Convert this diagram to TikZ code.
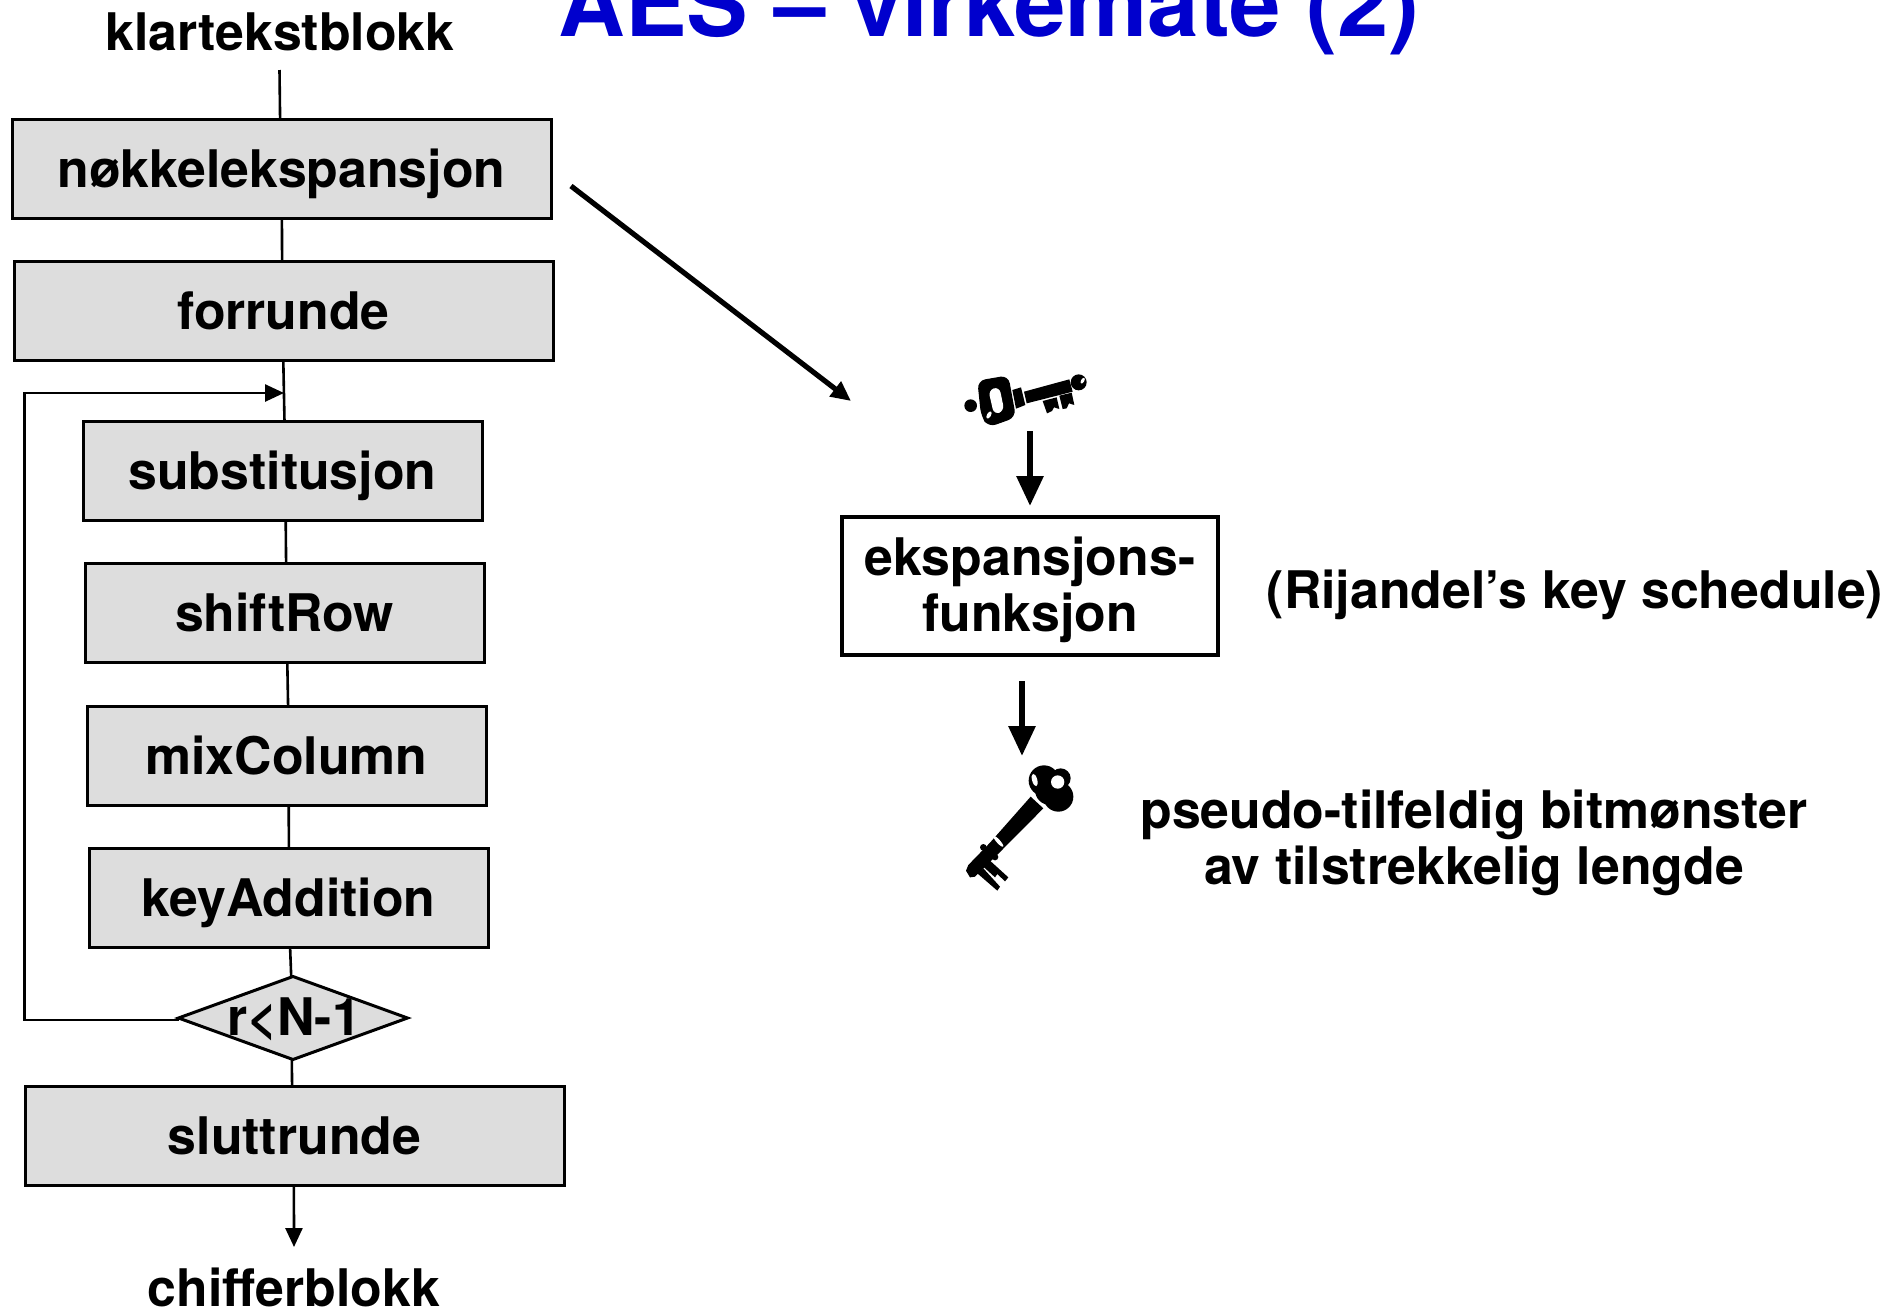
\documentclass[tikz,border=0pt]{standalone}
\usepackage{fontspec}
\setmainfont{TeX Gyre Heros}
\usetikzlibrary{arrows.meta,shapes.geometric}
\definecolor{boxgrey}{RGB}{221,221,221}
\definecolor{titleblue}{RGB}{0,0,205}
\tikzset{
  lbl/.style={font=\fontsize{25.9pt}{28pt}\selectfont\bfseries,inner sep=0pt,outer sep=0pt,align=center},
  oneline/.style={lbl,text height=24pt,text depth=5.2pt},
  stepbox/.style={oneline,draw=black,fill=boxgrey,line width=1.5pt,minimum height=49.5pt},
  widebox/.style={stepbox,minimum width=269.5pt},
  narrowbox/.style={stepbox,minimum width=199.5pt},
  funcbox/.style={lbl,draw=black,line width=2.2pt,minimum width=188pt,minimum height=69pt},
  conn/.style={line width=1.3pt},
  thinarrow/.style={conn,-{Triangle[length=9.5pt,width=8.5pt]}},
  diagarrow/.style={line width=2.6pt,-{Triangle[length=10pt,width=9pt]}},
  bigarrow/.style={line width=3pt,-{Triangle[length=15pt,width=13pt]}},
}
\begin{document}
\begin{tikzpicture}[x=0.5pt,y=-0.5pt]
\path[use as bounding box,clip] (0,0) rectangle (1897,1308);
\fill[white] (0,0) rectangle (1897,1308);

\node[lbl,anchor=base,text=titleblue,font=\fontsize{46.2pt}{48pt}\selectfont\bfseries] (title) at (989,36) {AES – virkemåte (2)};

\node[oneline] (klar) at (280,31.5) {klartekstblokk};
\coordinate (klarend) at (279.5,70);
\node[widebox] (nokkel) at (281.5,169) {nøkkelekspansjon};
\node[widebox] (forrunde) at (283.5,311) {forrunde};
\node[narrowbox] (subst) at (282.5,471) {substitusjon};
\node[narrowbox] (shift) at (284.5,613) {shiftRow};
\node[narrowbox] (mix) at (286.5,756) {mixColumn};
\node[narrowbox] (keyadd) at (288.5,898) {keyAddition};
\node[diamond,draw=black,fill=boxgrey,line width=1.5pt,minimum width=229*0.5pt,minimum height=83*0.5pt,inner sep=0pt,outer sep=0pt] (test) at (293,1018) {};
\node[oneline] (testlabel) at (294,1017) {r<N-1};
\node[widebox] (slutt) at (294.5,1136) {sluttrunde};
\node[lbl,anchor=base] (chiffer) at (294,1306) {chifferblokk};
\coordinate (chifferend) at (294,1247);

\coordinate (loopin) at (284,393);
\coordinate (loopup) at (24.5,393);

\draw[conn] (klarend) -- ([xshift=-0.7pt]nokkel.north);
\draw[conn] ([xshift=0.2pt]nokkel.south) -- ([xshift=-0.7pt]forrunde.north);
\draw[conn] ([xshift=-0.1pt]forrunde.south) -- ([xshift=1pt]subst.north);
\draw[conn] ([xshift=1.6pt]subst.south) -- ([xshift=0.8pt]shift.north);
\draw[conn] ([xshift=1.4pt]shift.south) -- ([xshift=0.8pt]mix.north);
\draw[conn] ([xshift=1.1pt]mix.south) -- ([xshift=0.2pt]keyadd.north);
\draw[conn] ([xshift=0.8pt]keyadd.south) -- ([xshift=-0.9pt]test.north);
\draw[conn] ([xshift=-0.6pt]test.south) -- ([xshift=-1.2pt]slutt.north);
\draw[thinarrow] ([xshift=-0.3pt]slutt.south) -- (chifferend);
\draw[thinarrow] ([yshift=-1pt]test.west) -| (loopup) -- (loopin);

\coordinate (bigfrom) at (571,186);
\coordinate (bigto) at (851,401);
\draw[diagarrow] (bigfrom) -- (bigto);

\node[funcbox,label={[lbl,yshift=-2pt]center:ekspansjons-\\funksjon}] (func) at (1030,586) {};
\node[lbl] (rij) at (1575,595) {(Rijandel’s key schedule)};
\node[lbl] (pseudo) at (1474,843) {pseudo-tilfeldig bitmønster\\av tilstrekkelig lengde};

\coordinate (keya) at (1030,431);
\coordinate (keaend) at (1030,506);
\coordinate (keyb) at (1022,681);
\coordinate (keyc) at (1022,756);
\draw[bigarrow] (keya) -- (keaend);
\draw[bigarrow] (keyb) -- (keyc);

% key above the function box
\begin{scope}[shift={(920,340)},x=0.16667pt,y=-0.16667pt]
  \fill (152,197) circle [radius=19*0.16667pt];
  \fill[rounded corners=4pt] (172,122) -- (265,106) -- (288,232) -- (205,262) -- (183,228) -- cycle;
  \fill[white,rounded corners=3pt] (205,150) -- (238,140) -- (253,213) -- (222,224) -- cycle;
  \fill (277,150) -- (303,142) -- (316,195) -- (288,206) -- cycle;
  \fill (312,155) -- (448,118) -- (458,155) -- (320,190) -- cycle;
  \fill (368,183) -- (410,172) -- (418,207) -- (402,202) -- (396,213) -- (381,220) -- cycle;
  \fill (418,167) -- (455,158) -- (463,195) -- (447,190) -- (440,205) -- (428,207) -- cycle;
  \fill (476,127) circle [radius=24*0.16667pt];
  \fill[white,rotate around={-30:(488,122)}] (488,122) ellipse [x radius=0.8pt,y radius=1.6pt];
  \fill[white,rotate around={-30:(207,225)}] (207,225) ellipse [x radius=1pt,y radius=2pt];
\end{scope}

% key below the function box
\begin{scope}[shift={(940,740)},x=0.16667pt,y=-0.16667pt]
  \fill (312,122) circle [radius=46*0.16667pt];
  \fill (362,115) circle [radius=30*0.16667pt];
  \fill (355,170) circle [radius=45*0.16667pt];
  \fill (330,150) circle [radius=45*0.16667pt];
  \fill (272,170) -- (310,205) -- (178,338) -- (105,410) -- (90,412) -- (78,392) -- (85,375) -- (150,308) -- cycle;
  \fill (130,322) circle [radius=10*0.16667pt];
  \fill (165,351) circle [radius=10*0.16667pt];
  \fill (150,362) -- (205,412) -- (195,424) -- (172,402) -- (165,412) -- (130,380) -- cycle;
  \fill (112,400) -- (130,385) -- (180,440) -- (172,452) -- cycle;
  \fill[white] (353,126) circle [radius=20*0.16667pt];
  \fill[white,rotate around={15:(284,120)}] (284,120) ellipse [x radius=1.3pt,y radius=3.2pt];
  \fill[white,rotate around={42:(175,304)}] (175,304) ellipse [x radius=0.9pt,y radius=3.6pt];
\end{scope}
\end{tikzpicture}
\end{document}
